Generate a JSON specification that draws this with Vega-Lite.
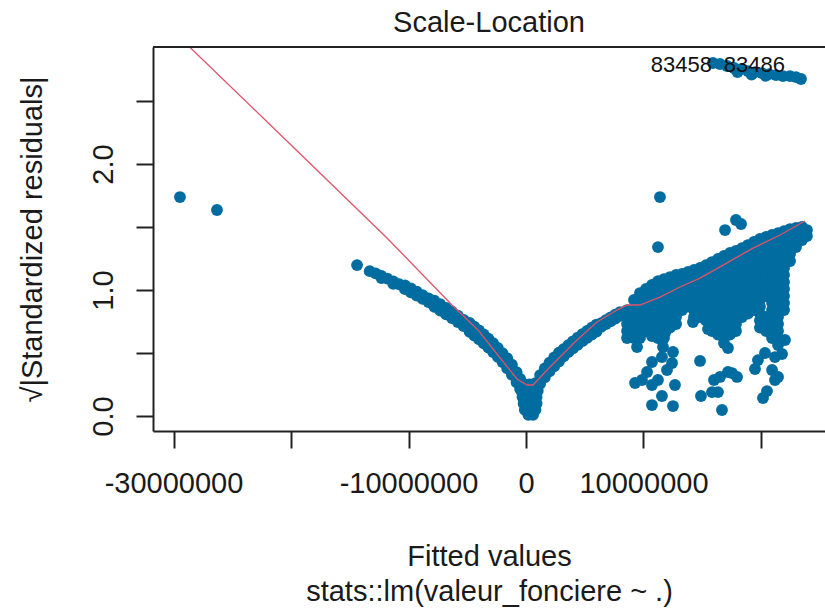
{
  "$schema": "https://vega.github.io/schema/vega-lite/v6.json",
  "width": 672,
  "height": 384,
  "autosize": {"type": "none"},
  "padding": {"left": 153, "top": 47, "right": 0, "bottom": 182},
  "background": "white",
  "config": {"view": {"stroke": null}, "font": "Liberation Sans"},
  "title": {
    "text": "Scale-Location",
    "fontSize": 29,
    "fontWeight": "normal",
    "font": "Liberation Sans",
    "color": "#1a1a1a",
    "anchor": "middle",
    "frame": "group",
    "baseline": "alphabetic",
    "offset": 14,
    "dy": 29
  },
  "datasets": {
    "obs": [
      {"fitted": -2.945e7, "sr": 1.738}, {"fitted": -2.63e7, "sr": 1.635}, {"fitted": -1.438e7, "sr": 1.198},
      {"fitted": -1.33e7, "sr": 1.150}, {"fitted": -1.28e7, "sr": 1.132}, {"fitted": -1.23e7, "sr": 1.112},
      {"fitted": -1.18e7, "sr": 1.090}, {"fitted": -1.13e7, "sr": 1.068}, {"fitted": -1.08e7, "sr": 1.046},
      {"fitted": -1.23e7, "sr": 1.095}, {"fitted": -1.13e7, "sr": 1.050},
      {"fitted": -1.03e7, "sr": 1.037}, {"fitted": -1.03e7, "sr": 1.007},
      {"fitted": -9.8e6, "sr": 1.012}, {"fitted": -9.8e6, "sr": 0.982},
      {"fitted": -9.3e6, "sr": 0.986}, {"fitted": -9.3e6, "sr": 0.956},
      {"fitted": -8.8e6, "sr": 0.960}, {"fitted": -8.8e6, "sr": 0.930},
      {"fitted": -8.3e6, "sr": 0.934}, {"fitted": -8.3e6, "sr": 0.904},
      {"fitted": -7.8e6, "sr": 0.916}, {"fitted": -7.8e6, "sr": 0.866},
      {"fitted": -7.3e6, "sr": 0.887}, {"fitted": -7.3e6, "sr": 0.837},
      {"fitted": -6.8e6, "sr": 0.858}, {"fitted": -6.8e6, "sr": 0.808},
      {"fitted": -6.3e6, "sr": 0.828}, {"fitted": -6.3e6, "sr": 0.778},
      {"fitted": -5.8e6, "sr": 0.796}, {"fitted": -5.8e6, "sr": 0.746},
      {"fitted": -5.3e6, "sr": 0.763}, {"fitted": -5.3e6, "sr": 0.713},
      {"fitted": -4.8e6, "sr": 0.738}, {"fitted": -4.8e6, "sr": 0.668},
      {"fitted": -4.4e6, "sr": 0.709}, {"fitted": -4.4e6, "sr": 0.639},
      {"fitted": -4.0e6, "sr": 0.679}, {"fitted": -4.0e6, "sr": 0.609},
      {"fitted": -3.6e6, "sr": 0.647}, {"fitted": -3.6e6, "sr": 0.577},
      {"fitted": -3.2e6, "sr": 0.613}, {"fitted": -3.2e6, "sr": 0.543},
      {"fitted": -2.8e6, "sr": 0.578}, {"fitted": -2.8e6, "sr": 0.508},
      {"fitted": -2.4e6, "sr": 0.540}, {"fitted": -2.4e6, "sr": 0.470},
      {"fitted": -2.0e6, "sr": 0.498}, {"fitted": -2.0e6, "sr": 0.428},
      {"fitted": -1.6e6, "sr": 0.458}, {"fitted": -1.6e6, "sr": 0.378},
      {"fitted": -1.2e6, "sr": 0.407}, {"fitted": -1.2e6, "sr": 0.327},
      {"fitted": -8e5, "sr": 0.348}, {"fitted": -8e5, "sr": 0.268},
      {"fitted": -5e5, "sr": 0.295}, {"fitted": -5e5, "sr": 0.215},
      {"fitted": -2e5, "sr": 0.227}, {"fitted": -2e5, "sr": 0.147},
      {"fitted": 2e5, "sr": 0.01}, {"fitted": 6e5, "sr": 0.01},
      {"fitted": -1e5, "sr": 0.05}, {"fitted": 3e5, "sr": 0.05}, {"fitted": 8e5, "sr": 0.05},
      {"fitted": -2e5, "sr": 0.10}, {"fitted": 2e5, "sr": 0.10}, {"fitted": 6e5, "sr": 0.10}, {"fitted": 9e5, "sr": 0.10},
      {"fitted": -3e5, "sr": 0.15}, {"fitted": 1e5, "sr": 0.15}, {"fitted": 5e5, "sr": 0.15}, {"fitted": 9e5, "sr": 0.15},
      {"fitted": -4e5, "sr": 0.20}, {"fitted": 0, "sr": 0.20}, {"fitted": 4e5, "sr": 0.20}, {"fitted": 8e5, "sr": 0.20}, {"fitted": 1.0e6, "sr": 0.20},
      {"fitted": -5e5, "sr": 0.25}, {"fitted": -1e5, "sr": 0.25}, {"fitted": 3e5, "sr": 0.25}, {"fitted": 7e5, "sr": 0.25},
      {"fitted": 8e5, "sr": 0.260}, {"fitted": 8e5, "sr": 0.190},
      {"fitted": 1.2e6, "sr": 0.325}, {"fitted": 1.2e6, "sr": 0.255},
      {"fitted": 1.6e6, "sr": 0.378}, {"fitted": 1.6e6, "sr": 0.308},
      {"fitted": 2.0e6, "sr": 0.424}, {"fitted": 2.0e6, "sr": 0.354},
      {"fitted": 2.4e6, "sr": 0.465}, {"fitted": 2.4e6, "sr": 0.395},
      {"fitted": 2.8e6, "sr": 0.503}, {"fitted": 2.8e6, "sr": 0.433},
      {"fitted": 3.2e6, "sr": 0.530}, {"fitted": 3.2e6, "sr": 0.474},
      {"fitted": 3.6e6, "sr": 0.563}, {"fitted": 3.6e6, "sr": 0.507},
      {"fitted": 4.0e6, "sr": 0.593}, {"fitted": 4.0e6, "sr": 0.537},
      {"fitted": 4.4e6, "sr": 0.622}, {"fitted": 4.4e6, "sr": 0.566},
      {"fitted": 4.8e6, "sr": 0.650}, {"fitted": 4.8e6, "sr": 0.594},
      {"fitted": 5.2e6, "sr": 0.676}, {"fitted": 5.2e6, "sr": 0.620},
      {"fitted": 5.6e6, "sr": 0.702}, {"fitted": 5.6e6, "sr": 0.646},
      {"fitted": 6.0e6, "sr": 0.726}, {"fitted": 6.0e6, "sr": 0.670},
      {"fitted": 6.4e6, "sr": 0.737}, {"fitted": 6.4e6, "sr": 0.707},
      {"fitted": 6.8e6, "sr": 0.760}, {"fitted": 6.8e6, "sr": 0.730},
      {"fitted": 7.2e6, "sr": 0.782}, {"fitted": 7.2e6, "sr": 0.752},
      {"fitted": 7.6e6, "sr": 0.804}, {"fitted": 7.6e6, "sr": 0.774},
      {"fitted": 8.0e6, "sr": 0.825}, {"fitted": 8.0e6, "sr": 0.795},
      {"fitted": 8.60e6, "sr": 0.841}, {"fitted": 8.60e6, "sr": 0.786}, {"fitted": 8.60e6, "sr": 0.730}, {"fitted": 8.60e6, "sr": 0.675}, {"fitted": 8.60e6, "sr": 0.619},
      {"fitted": 9.19e6, "sr": 0.921}, {"fitted": 9.19e6, "sr": 0.841}, {"fitted": 9.19e6, "sr": 0.786}, {"fitted": 9.19e6, "sr": 0.730}, {"fitted": 9.19e6, "sr": 0.675}, {"fitted": 9.19e6, "sr": 0.619},
      {"fitted": 9.70e6, "sr": 0.976}, {"fitted": 9.70e6, "sr": 0.897}, {"fitted": 9.70e6, "sr": 0.841}, {"fitted": 9.70e6, "sr": 0.786}, {"fitted": 9.70e6, "sr": 0.730}, {"fitted": 9.70e6, "sr": 0.675}, {"fitted": 9.70e6, "sr": 0.619},
      {"fitted": 1.021e7, "sr": 1.008}, {"fitted": 1.021e7, "sr": 0.952}, {"fitted": 1.021e7, "sr": 0.897}, {"fitted": 1.021e7, "sr": 0.841}, {"fitted": 1.021e7, "sr": 0.786}, {"fitted": 1.021e7, "sr": 0.730}, {"fitted": 1.021e7, "sr": 0.675},
      {"fitted": 1.072e7, "sr": 1.040}, {"fitted": 1.072e7, "sr": 0.952}, {"fitted": 1.072e7, "sr": 0.897}, {"fitted": 1.072e7, "sr": 0.841}, {"fitted": 1.072e7, "sr": 0.786}, {"fitted": 1.072e7, "sr": 0.730}, {"fitted": 1.072e7, "sr": 0.675}, {"fitted": 1.072e7, "sr": 0.635},
      {"fitted": 1.123e7, "sr": 1.071}, {"fitted": 1.123e7, "sr": 1.008}, {"fitted": 1.123e7, "sr": 0.952}, {"fitted": 1.123e7, "sr": 0.897}, {"fitted": 1.123e7, "sr": 0.841}, {"fitted": 1.123e7, "sr": 0.786}, {"fitted": 1.123e7, "sr": 0.730}, {"fitted": 1.123e7, "sr": 0.675}, {"fitted": 1.123e7, "sr": 0.619},
      {"fitted": 1.174e7, "sr": 1.087}, {"fitted": 1.174e7, "sr": 1.008}, {"fitted": 1.174e7, "sr": 0.952}, {"fitted": 1.174e7, "sr": 0.897}, {"fitted": 1.174e7, "sr": 0.841}, {"fitted": 1.174e7, "sr": 0.786}, {"fitted": 1.174e7, "sr": 0.730}, {"fitted": 1.174e7, "sr": 0.675}, {"fitted": 1.174e7, "sr": 0.619},
      {"fitted": 1.226e7, "sr": 1.103}, {"fitted": 1.226e7, "sr": 1.040}, {"fitted": 1.226e7, "sr": 0.980}, {"fitted": 1.226e7, "sr": 0.925}, {"fitted": 1.226e7, "sr": 0.869}, {"fitted": 1.226e7, "sr": 0.813}, {"fitted": 1.226e7, "sr": 0.758}, {"fitted": 1.226e7, "sr": 0.702},
      {"fitted": 1.277e7, "sr": 1.119}, {"fitted": 1.277e7, "sr": 1.063}, {"fitted": 1.277e7, "sr": 1.008}, {"fitted": 1.277e7, "sr": 0.952}, {"fitted": 1.277e7, "sr": 0.897}, {"fitted": 1.277e7, "sr": 0.841}, {"fitted": 1.277e7, "sr": 0.786}, {"fitted": 1.277e7, "sr": 0.730},
      {"fitted": 1.328e7, "sr": 1.127}, {"fitted": 1.328e7, "sr": 1.063}, {"fitted": 1.328e7, "sr": 1.008}, {"fitted": 1.328e7, "sr": 0.952}, {"fitted": 1.328e7, "sr": 0.897}, {"fitted": 1.328e7, "sr": 0.841},
      {"fitted": 1.379e7, "sr": 1.143}, {"fitted": 1.379e7, "sr": 1.090}, {"fitted": 1.379e7, "sr": 1.035}, {"fitted": 1.379e7, "sr": 0.980}, {"fitted": 1.379e7, "sr": 0.925}, {"fitted": 1.379e7, "sr": 0.869},
      {"fitted": 1.430e7, "sr": 1.159}, {"fitted": 1.430e7, "sr": 1.119}, {"fitted": 1.430e7, "sr": 1.063}, {"fitted": 1.430e7, "sr": 1.008}, {"fitted": 1.430e7, "sr": 0.952}, {"fitted": 1.430e7, "sr": 0.897}, {"fitted": 1.430e7, "sr": 0.841}, {"fitted": 1.430e7, "sr": 0.786},
      {"fitted": 1.481e7, "sr": 1.175}, {"fitted": 1.481e7, "sr": 1.119}, {"fitted": 1.481e7, "sr": 1.063}, {"fitted": 1.481e7, "sr": 1.008}, {"fitted": 1.481e7, "sr": 0.952}, {"fitted": 1.481e7, "sr": 0.897}, {"fitted": 1.481e7, "sr": 0.841}, {"fitted": 1.481e7, "sr": 0.786},
      {"fitted": 1.532e7, "sr": 1.198}, {"fitted": 1.532e7, "sr": 1.145}, {"fitted": 1.532e7, "sr": 1.090}, {"fitted": 1.532e7, "sr": 1.035}, {"fitted": 1.532e7, "sr": 0.980}, {"fitted": 1.532e7, "sr": 0.925}, {"fitted": 1.532e7, "sr": 0.869}, {"fitted": 1.532e7, "sr": 0.813}, {"fitted": 1.532e7, "sr": 0.758},
      {"fitted": 1.583e7, "sr": 1.222}, {"fitted": 1.583e7, "sr": 1.175}, {"fitted": 1.583e7, "sr": 1.119}, {"fitted": 1.583e7, "sr": 1.063}, {"fitted": 1.583e7, "sr": 1.008}, {"fitted": 1.583e7, "sr": 0.952}, {"fitted": 1.583e7, "sr": 0.897}, {"fitted": 1.583e7, "sr": 0.841}, {"fitted": 1.583e7, "sr": 0.786}, {"fitted": 1.583e7, "sr": 0.730}, {"fitted": 1.583e7, "sr": 0.675},
      {"fitted": 1.634e7, "sr": 1.246}, {"fitted": 1.634e7, "sr": 1.200}, {"fitted": 1.634e7, "sr": 1.145}, {"fitted": 1.634e7, "sr": 1.090}, {"fitted": 1.634e7, "sr": 1.035}, {"fitted": 1.634e7, "sr": 0.980}, {"fitted": 1.634e7, "sr": 0.925}, {"fitted": 1.634e7, "sr": 0.869}, {"fitted": 1.634e7, "sr": 0.813}, {"fitted": 1.634e7, "sr": 0.758}, {"fitted": 1.634e7, "sr": 0.702}, {"fitted": 1.634e7, "sr": 0.647},
      {"fitted": 1.685e7, "sr": 1.270}, {"fitted": 1.685e7, "sr": 1.230}, {"fitted": 1.685e7, "sr": 1.175}, {"fitted": 1.685e7, "sr": 1.119}, {"fitted": 1.685e7, "sr": 1.063}, {"fitted": 1.685e7, "sr": 1.008}, {"fitted": 1.685e7, "sr": 0.952}, {"fitted": 1.685e7, "sr": 0.897}, {"fitted": 1.685e7, "sr": 0.841}, {"fitted": 1.685e7, "sr": 0.786}, {"fitted": 1.685e7, "sr": 0.730}, {"fitted": 1.685e7, "sr": 0.675}, {"fitted": 1.685e7, "sr": 0.619}, {"fitted": 1.685e7, "sr": 0.579},
      {"fitted": 1.736e7, "sr": 1.294}, {"fitted": 1.736e7, "sr": 1.258}, {"fitted": 1.736e7, "sr": 1.200}, {"fitted": 1.736e7, "sr": 1.145}, {"fitted": 1.736e7, "sr": 1.090}, {"fitted": 1.736e7, "sr": 1.035}, {"fitted": 1.736e7, "sr": 0.980}, {"fitted": 1.736e7, "sr": 0.925}, {"fitted": 1.736e7, "sr": 0.869}, {"fitted": 1.736e7, "sr": 0.813}, {"fitted": 1.736e7, "sr": 0.758}, {"fitted": 1.736e7, "sr": 0.702}, {"fitted": 1.736e7, "sr": 0.647},
      {"fitted": 1.787e7, "sr": 1.310}, {"fitted": 1.787e7, "sr": 1.230}, {"fitted": 1.787e7, "sr": 1.175}, {"fitted": 1.787e7, "sr": 1.119}, {"fitted": 1.787e7, "sr": 1.063}, {"fitted": 1.787e7, "sr": 1.008}, {"fitted": 1.787e7, "sr": 0.952}, {"fitted": 1.787e7, "sr": 0.897}, {"fitted": 1.787e7, "sr": 0.841}, {"fitted": 1.787e7, "sr": 0.786}, {"fitted": 1.787e7, "sr": 0.730}, {"fitted": 1.787e7, "sr": 0.675},
      {"fitted": 1.838e7, "sr": 1.333}, {"fitted": 1.838e7, "sr": 1.286}, {"fitted": 1.838e7, "sr": 1.230}, {"fitted": 1.838e7, "sr": 1.175}, {"fitted": 1.838e7, "sr": 1.119}, {"fitted": 1.838e7, "sr": 1.063}, {"fitted": 1.838e7, "sr": 1.008}, {"fitted": 1.838e7, "sr": 0.952}, {"fitted": 1.838e7, "sr": 0.897}, {"fitted": 1.838e7, "sr": 0.841}, {"fitted": 1.838e7, "sr": 0.786},
      {"fitted": 1.889e7, "sr": 1.357}, {"fitted": 1.889e7, "sr": 1.313}, {"fitted": 1.889e7, "sr": 1.258}, {"fitted": 1.889e7, "sr": 1.200}, {"fitted": 1.889e7, "sr": 1.145}, {"fitted": 1.889e7, "sr": 1.090}, {"fitted": 1.889e7, "sr": 1.035}, {"fitted": 1.889e7, "sr": 0.980}, {"fitted": 1.889e7, "sr": 0.925}, {"fitted": 1.889e7, "sr": 0.869}, {"fitted": 1.889e7, "sr": 0.813},
      {"fitted": 1.940e7, "sr": 1.381}, {"fitted": 1.940e7, "sr": 1.341}, {"fitted": 1.940e7, "sr": 1.286}, {"fitted": 1.940e7, "sr": 1.230}, {"fitted": 1.940e7, "sr": 1.175}, {"fitted": 1.940e7, "sr": 1.119}, {"fitted": 1.940e7, "sr": 1.063}, {"fitted": 1.940e7, "sr": 1.008}, {"fitted": 1.940e7, "sr": 0.952}, {"fitted": 1.940e7, "sr": 0.897}, {"fitted": 1.940e7, "sr": 0.841},
      {"fitted": 1.991e7, "sr": 1.405}, {"fitted": 1.991e7, "sr": 1.369}, {"fitted": 1.991e7, "sr": 1.313}, {"fitted": 1.991e7, "sr": 1.258}, {"fitted": 1.991e7, "sr": 1.200}, {"fitted": 1.991e7, "sr": 1.145}, {"fitted": 1.991e7, "sr": 1.090}, {"fitted": 1.991e7, "sr": 1.035}, {"fitted": 1.991e7, "sr": 0.980}, {"fitted": 1.991e7, "sr": 0.925}, {"fitted": 1.991e7, "sr": 0.869}, {"fitted": 1.991e7, "sr": 0.813}, {"fitted": 1.991e7, "sr": 0.758}, {"fitted": 1.991e7, "sr": 0.702},
      {"fitted": 2.043e7, "sr": 1.421}, {"fitted": 2.043e7, "sr": 1.341}, {"fitted": 2.043e7, "sr": 1.286}, {"fitted": 2.043e7, "sr": 1.230}, {"fitted": 2.043e7, "sr": 1.175}, {"fitted": 2.043e7, "sr": 1.119}, {"fitted": 2.043e7, "sr": 1.063}, {"fitted": 2.043e7, "sr": 1.008}, {"fitted": 2.043e7, "sr": 0.952}, {"fitted": 2.043e7, "sr": 0.786}, {"fitted": 2.043e7, "sr": 0.730}, {"fitted": 2.043e7, "sr": 0.675},
      {"fitted": 2.094e7, "sr": 1.437}, {"fitted": 2.094e7, "sr": 1.397}, {"fitted": 2.094e7, "sr": 1.341}, {"fitted": 2.094e7, "sr": 1.286}, {"fitted": 2.094e7, "sr": 1.230}, {"fitted": 2.094e7, "sr": 1.175}, {"fitted": 2.094e7, "sr": 1.119}, {"fitted": 2.094e7, "sr": 1.063}, {"fitted": 2.094e7, "sr": 1.008}, {"fitted": 2.094e7, "sr": 0.952}, {"fitted": 2.094e7, "sr": 0.897}, {"fitted": 2.094e7, "sr": 0.841}, {"fitted": 2.094e7, "sr": 0.786}, {"fitted": 2.094e7, "sr": 0.730}, {"fitted": 2.094e7, "sr": 0.675}, {"fitted": 2.094e7, "sr": 0.619},
      {"fitted": 2.145e7, "sr": 1.452}, {"fitted": 2.145e7, "sr": 1.397}, {"fitted": 2.145e7, "sr": 1.341}, {"fitted": 2.145e7, "sr": 1.286}, {"fitted": 2.145e7, "sr": 1.230}, {"fitted": 2.145e7, "sr": 1.175}, {"fitted": 2.145e7, "sr": 1.119}, {"fitted": 2.145e7, "sr": 1.063}, {"fitted": 2.145e7, "sr": 1.008}, {"fitted": 2.145e7, "sr": 0.952}, {"fitted": 2.145e7, "sr": 0.897}, {"fitted": 2.145e7, "sr": 0.841}, {"fitted": 2.145e7, "sr": 0.786}, {"fitted": 2.145e7, "sr": 0.730}, {"fitted": 2.145e7, "sr": 0.675}, {"fitted": 2.145e7, "sr": 0.619}, {"fitted": 2.145e7, "sr": 0.563},
      {"fitted": 2.196e7, "sr": 1.468}, {"fitted": 2.196e7, "sr": 1.397}, {"fitted": 2.196e7, "sr": 1.341}, {"fitted": 2.196e7, "sr": 1.286}, {"fitted": 2.196e7, "sr": 1.230}, {"fitted": 2.196e7, "sr": 1.175}, {"fitted": 2.196e7, "sr": 1.119}, {"fitted": 2.196e7, "sr": 1.063}, {"fitted": 2.196e7, "sr": 1.008}, {"fitted": 2.196e7, "sr": 0.952}, {"fitted": 2.196e7, "sr": 0.897}, {"fitted": 2.196e7, "sr": 0.841},
      {"fitted": 2.247e7, "sr": 1.484}, {"fitted": 2.247e7, "sr": 1.397}, {"fitted": 2.247e7, "sr": 1.341}, {"fitted": 2.247e7, "sr": 1.286}, {"fitted": 2.247e7, "sr": 1.230},
      {"fitted": 2.298e7, "sr": 1.492}, {"fitted": 2.298e7, "sr": 1.452}, {"fitted": 2.298e7, "sr": 1.397}, {"fitted": 2.298e7, "sr": 1.341},
      {"fitted": 2.349e7, "sr": 1.500}, {"fitted": 2.349e7, "sr": 1.452}, {"fitted": 2.349e7, "sr": 1.397},
      {"fitted": 2.391e7, "sr": 1.476}, {"fitted": 2.391e7, "sr": 1.429},
      {"fitted": 1.140e7, "sr": 1.738}, {"fitted": 1.123e7, "sr": 1.341}, {"fitted": 1.694e7, "sr": 1.476}, {"fitted": 1.787e7, "sr": 1.556}, {"fitted": 1.830e7, "sr": 1.524},
      {"fitted": 9.45e6, "sr": 0.548}, {"fitted": 9.28e6, "sr": 0.262}, {"fitted": 1.072e7, "sr": 0.087}, {"fitted": 1.251e7, "sr": 0.079},
      {"fitted": 1.157e7, "sr": 0.159}, {"fitted": 1.030e7, "sr": 0.349}, {"fitted": 1.200e7, "sr": 0.365}, {"fitted": 1.157e7, "sr": 0.603},
      {"fitted": 1.251e7, "sr": 0.508}, {"fitted": 1.421e7, "sr": 0.746}, {"fitted": 1.549e7, "sr": 0.690}, {"fitted": 1.481e7, "sr": 0.437},
      {"fitted": 1.719e7, "sr": 0.540}, {"fitted": 1.719e7, "sr": 0.349}, {"fitted": 1.796e7, "sr": 0.310}, {"fitted": 1.600e7, "sr": 0.286},
      {"fitted": 1.489e7, "sr": 0.159}, {"fitted": 1.583e7, "sr": 0.190}, {"fitted": 1.668e7, "sr": 0.048}, {"fitted": 2.017e7, "sr": 0.143},
      {"fitted": 2.051e7, "sr": 0.198}, {"fitted": 2.119e7, "sr": 0.286}, {"fitted": 2.179e7, "sr": 0.492}, {"fitted": 2.204e7, "sr": 0.603},
      {"fitted": 1.949e7, "sr": 0.373}, {"fitted": 2.034e7, "sr": 0.500}, {"fitted": 1.183e7, "sr": 0.659}, {"fitted": 1.166e7, "sr": 0.548},
      {"fitted": 1.157e7, "sr": 0.468}, {"fitted": 1.072e7, "sr": 0.429}, {"fitted": 1.243e7, "sr": 0.421}, {"fitted": 9.87e6, "sr": 0.286},
      {"fitted": 1.123e7, "sr": 0.286}, {"fitted": 1.268e7, "sr": 0.246}, {"fitted": 1.072e7, "sr": 0.246}, {"fitted": 1.651e7, "sr": 0.310},
      {"fitted": 1.753e7, "sr": 0.341}, {"fitted": 1.634e7, "sr": 0.190}, {"fitted": 1.974e7, "sr": 0.444}, {"fitted": 2.094e7, "sr": 0.365},
      {"fitted": 2.119e7, "sr": 0.468}, {"fitted": 2.145e7, "sr": 0.310},
      {"fitted": 1.591e7, "sr": 2.802}, {"fitted": 1.651e7, "sr": 2.794}, {"fitted": 1.711e7, "sr": 2.778}, {"fitted": 1.770e7, "sr": 2.762},
      {"fitted": 1.830e7, "sr": 2.754}, {"fitted": 1.889e7, "sr": 2.738}, {"fitted": 1.949e7, "sr": 2.730}, {"fitted": 2.009e7, "sr": 2.722},
      {"fitted": 2.068e7, "sr": 2.714}, {"fitted": 2.128e7, "sr": 2.706}, {"fitted": 2.187e7, "sr": 2.698}, {"fitted": 2.247e7, "sr": 2.698},
      {"fitted": 2.298e7, "sr": 2.690}, {"fitted": 2.340e7, "sr": 2.675},
      {"fitted": 1.800e7, "sr": 2.730}, {"fitted": 1.920e7, "sr": 2.710}, {"fitted": 2.040e7, "sr": 2.700}
    ],
    "smooth": [
      {"fitted": -2.945e7, "sr": 3.003}, {"fitted": -2.026e7, "sr": 2.175}, {"fitted": -1.183e7, "sr": 1.413},
      {"fitted": -6.30e6, "sr": 0.881}, {"fitted": -4.09e6, "sr": 0.683}, {"fitted": -2.81e6, "sr": 0.532},
      {"fitted": -7.7e5, "sr": 0.294}, {"fitted": 9e4, "sr": 0.246}, {"fitted": 6.0e5, "sr": 0.246},
      {"fitted": 1.79e6, "sr": 0.365}, {"fitted": 4.34e6, "sr": 0.603}, {"fitted": 6.04e6, "sr": 0.746},
      {"fitted": 7.74e6, "sr": 0.841}, {"fitted": 8.60e6, "sr": 0.881}, {"fitted": 9.70e6, "sr": 0.881},
      {"fitted": 1.140e7, "sr": 0.944}, {"fitted": 1.311e7, "sr": 1.024}, {"fitted": 1.481e7, "sr": 1.095},
      {"fitted": 1.677e7, "sr": 1.198}, {"fitted": 1.932e7, "sr": 1.333}, {"fitted": 2.162e7, "sr": 1.437},
      {"fitted": 2.374e7, "sr": 1.548}
    ],
    "labelled": [
      {"fitted": 1.634e7, "sr": 2.79, "id": "83458"},
      {"fitted": 2.255e7, "sr": 2.79, "id": "83486"}
    ]
  },
  "layer": [
    {
      "data": {"name": "obs"},
      "mark": {"type": "circle", "size": 140, "opacity": 1, "color": "#006ca0"},
      "encoding": {
        "x": {
          "field": "fitted",
          "type": "quantitative",
          "scale": {"domain": [-31745000, 25447000], "nice": false, "zero": false},
          "axis": {
            "values": [-30000000, -20000000, -10000000, 0, 10000000, 20000000],
            "labelExpr": "datum.value == -20000000 || datum.value == 20000000 ? '' : '' + datum.value",
            "title": ["Fitted values", "stats::lm(valeur_fonciere ~ .)"],
            "grid": false,
            "domainColor": "#222222",
            "domainWidth": 2,
            "tickColor": "#222222",
            "tickWidth": 2,
            "tickSize": 17,
            "labelFont": "Liberation Sans",
            "labelFontSize": 29,
            "labelColor": "#1a1a1a",
            "labelBaseline": "alphabetic",
            "labelPadding": 44,
            "labelOverlap": false,
            "labelFlush": false,
            "titleFont": "Liberation Sans",
            "titleFontSize": 29,
            "titleFontWeight": "normal",
            "titleColor": "#1a1a1a",
            "titleBaseline": "alphabetic",
            "titleLineHeight": 35,
            "titleY": 134
          }
        },
        "y": {
          "field": "sr",
          "type": "quantitative",
          "scale": {"domain": [-0.119, 2.929], "nice": false, "zero": false},
          "axis": {
            "values": [0, 0.5, 1, 1.5, 2, 2.5],
            "labelExpr": "datum.value % 1 == 0 ? format(datum.value, '.1f') : ''",
            "title": "√|Standardized residuals|",
            "grid": false,
            "domainColor": "#222222",
            "domainWidth": 2,
            "tickColor": "#222222",
            "tickWidth": 2,
            "tickSize": 17,
            "labelFont": "Liberation Sans",
            "labelFontSize": 29,
            "labelColor": "#1a1a1a",
            "labelAngle": 270,
            "labelAlign": "center",
            "labelBaseline": "alphabetic",
            "labelPadding": 24,
            "labelOverlap": false,
            "labelFlush": false,
            "titleFont": "Liberation Sans",
            "titleFontSize": 29,
            "titleFontWeight": "normal",
            "titleColor": "#1a1a1a",
            "titleAngle": 270,
            "titleAlign": "center",
            "titleBaseline": "alphabetic",
            "titleX": -112,
            "titleY": 192
          }
        }
      }
    },
    {
      "data": {"name": "smooth"},
      "mark": {"type": "line", "color": "#DF536B", "strokeWidth": 1.3, "clip": true},
      "encoding": {
        "x": {"field": "fitted", "type": "quantitative"},
        "y": {"field": "sr", "type": "quantitative"}
      }
    },
    {
      "data": {"name": "labelled"},
      "mark": {"type": "text", "align": "right", "baseline": "middle", "dx": -6, "fontSize": 22, "font": "Liberation Sans", "color": "#111111"},
      "encoding": {
        "x": {"field": "fitted", "type": "quantitative"},
        "y": {"field": "sr", "type": "quantitative"},
        "text": {"field": "id", "type": "nominal"}
      }
    },
    {
      "data": {"values": [{}]},
      "mark": {"type": "rule", "color": "#222222", "strokeWidth": 2},
      "encoding": {"y": {"datum": 2.929}}
    }
  ]
}
